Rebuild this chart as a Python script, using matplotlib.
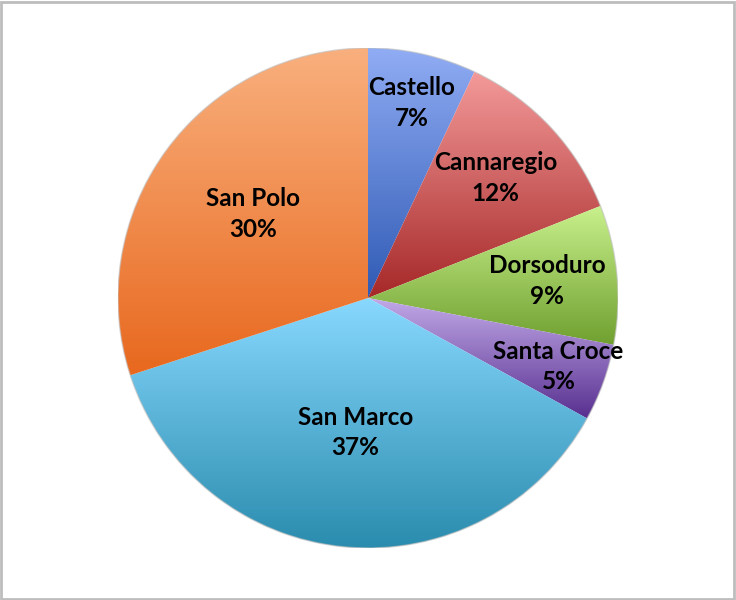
import numpy as np
import matplotlib.pyplot as plt
from matplotlib.colors import LinearSegmentedColormap
from matplotlib.patches import Rectangle, Circle

# sestieri of Venice, share in percent (clockwise from top)
districts = ["Castello", "Cannaregio", "Dorsoduro", "Santa Croce", "San Marco", "San Polo"]
shares = [7, 12, 9, 5, 37, 30]

# gradient colours per slice: light (top) -> dark (bottom)
top_colors = ["#90acf4", "#f49a9a", "#c8f08c", "#c2aae8", "#88d8ff", "#f9b07e"]
bottom_colors = ["#2f5ab4", "#a62828", "#70a030", "#583090", "#2a8cae", "#e8681e"]
label_radius = [0.80, 0.70, 0.72, 0.81, 0.54, 0.57]

fig = plt.figure(figsize=(7.36, 6.0), dpi=100)
ax = fig.add_axes([118 / 736, 52 / 600, 500 / 736, 500 / 600])
ax.set_aspect("equal")
ax.axis("off")

wedges, _ = ax.pie(shares, startangle=90, counterclock=False, radius=1,
                   colors=["none"] * len(shares), wedgeprops=dict(linewidth=0))

grad = np.linspace(0, 1, 256).reshape(-1, 1)
for w, c0, c1 in zip(wedges, top_colors, bottom_colors):
    ext = w.get_path().get_extents()
    cmap = LinearSegmentedColormap.from_list("g", [c0, c1])
    im = ax.imshow(grad, cmap=cmap, aspect="auto", origin="upper",
                   extent=[ext.x0, ext.x1, ext.y0, ext.y1], zorder=1)
    im.set_clip_path(w)

ax.set_xlim(-1, 1)
ax.set_ylim(-1, 1)

# soft outline around the pie
ax.add_patch(Circle((0, 0), 1.0, fill=False, edgecolor="#c0c0c0", linewidth=1.0,
                    alpha=0.6, zorder=2))

for w, name, val, r in zip(wedges, districts, shares, label_radius):
    ang = np.deg2rad((w.theta1 + w.theta2) / 2)
    ax.text(r * np.cos(ang), r * np.sin(ang), f"{name}\n{val}%",
            ha="center", va="center", fontsize=17.5, fontweight="bold",
            family=["Lato", "DejaVu Sans"], linespacing=1.4, zorder=3)

# figure frame
fig.patches.append(Rectangle((0.002, 0.002), 0.995, 0.995, transform=fig.transFigure,
                             fill=False, edgecolor="#bdbdbd", linewidth=2))

fig.savefig("out.png", dpi=100)
